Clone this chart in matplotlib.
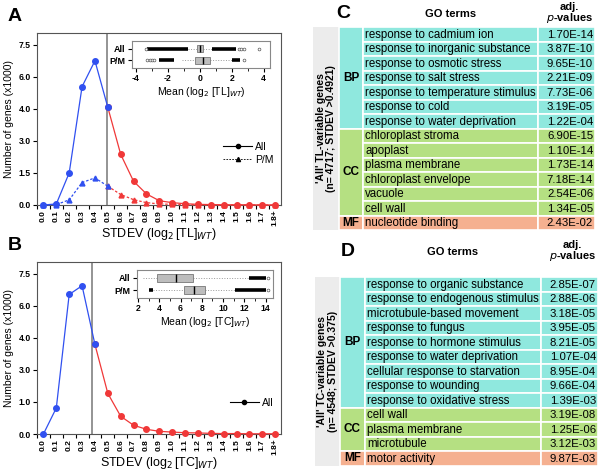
import matplotlib
matplotlib.use('Agg')
import matplotlib.pyplot as plt
import matplotlib.patches as mpatches
import numpy as np

plt.rcParams['font.family'] = ['Liberation Sans', 'DejaVu Sans']
plt.rcParams['font.size'] = 7

# ---------------- data ----------------
stdev_labels = ['0.0', '0.1', '0.2', '0.3', '0.4', '0.5', '0.6', '0.7', '0.8', '0.9',
                '1.0', '1.1', '1.2', '1.3', '1.4', '1.5', '1.6', '1.7', '1.8+']
a_all = [0, 0.05, 1.5, 5.54, 6.75, 4.57, 2.37, 1.11, 0.52, 0.2, 0.11, 0.06, 0.03,
         0.02, 0.01, 0.01, 0.01, 0.0, 0.0]
a_pm = [0, 0.02, 0.24, 1.05, 1.27, 0.88, 0.49, 0.25, 0.11, 0.05, 0.03, 0.01, 0.01,
        0, 0, 0, 0, 0, 0]
b_all = [0, 1.22, 6.53, 6.94, 4.19, 1.9, 0.83, 0.41, 0.22, 0.125, 0.09, 0.06, 0.05,
         0.03, 0.02, 0.02, 0.01, 0.01, 0.01]
thr_a, thr_b = 0.4921, 0.375
split_a, split_b = 5, 4
a_yticklabels = ['0.0', '1.5', '3.0', '4.0', '6.0', '7.5']
b_yticklabels = ['0.0', '1.0', '3.0', '4.0', '6.0', '7.5']

# inset box stats: (label, med, q1, q3, whislo, whishi, dense bands, single outliers)
inset_a = [
    ('All', 0.0, -0.15, 0.19, -0.72, 0.77, [(-3.3, -0.72), (0.77, 2.25)], [-3.35, 2.45, 2.6, 2.8, 3.7]),
    ('P/M', 0.19, -0.31, 0.65, -1.1, 2.03, [(-2.57, -1.6), (2.03, 2.5)], [-3.3, -3.15, -3.0, -2.85, 2.8]),
]
inset_b = [
    ('All', 5.56, 3.75, 7.19, 2.44, 12.44, [(12.44, 14.06)], [14.2]),
    ('P/M', 7.28, 6.34, 8.28, 3.44, 11.1, [(3.05, 3.4), (11.1, 14.06)], [14.2]),
]

table_c_terms = ['response to cadmium ion', 'response to inorganic substance',
                 'response to osmotic stress', 'response to salt stress',
                 'response to temperature stimulus', 'response to cold',
                 'response to water deprivation', 'chloroplast stroma', 'apoplast',
                 'plasma membrane', 'chloroplast envelope', 'vacuole', 'cell wall',
                 'nucleotide binding']
table_c_p = ['1.70E-14', '3.87E-10', '9.65E-10', '2.21E-09', '7.73E-06', '3.19E-05',
             '1.22E-04', '6.90E-15', '1.10E-14', '1.73E-14', '7.18E-14', '2.54E-06',
             '1.34E-05', '2.43E-02']
table_c_groups = [('BP', 7), ('CC', 6), ('MF', 1)]
table_d_terms = ['response to organic substance', 'response to endogenous stimulus',
                 'microtubule-based movement', 'response to fungus',
                 'response to hormone stimulus', 'response to water deprivation',
                 'cellular response to starvation', 'response to wounding',
                 'response to oxidative stress', 'cell wall', 'plasma membrane',
                 'microtubule', 'motor activity']
table_d_p = ['2.85E-07', '2.88E-06', '3.18E-05', '3.95E-05', '8.21E-05', '1.07E-04',
             '8.95E-04', '9.66E-04', '1.39E-03', '3.19E-08', '1.25E-06', '3.12E-03',
             '9.87E-03']
table_d_groups = [('BP', 9), ('CC', 3), ('MF', 1)]

BLUE, RED = '#3050f0', '#f03838'
group_colors = {'BP': '#8fe8de', 'CC': '#b5e082', 'MF': '#f5b090'}
PM_DASH = (0, (2, 1.5))

fig = plt.figure(figsize=(6.0, 4.7), dpi=100)
W, H = 600, 470

def fax(x0, y0, x1, y1):
    return fig.add_axes([x0 / W, 1 - y1 / H, (x1 - x0) / W, (y1 - y0) / H])

def line_panel(ax, series, split, thr, ylabels, xlab):
    x = np.arange(len(stdev_labels))
    for vals, mk, ls, ms in series:
        vals = np.array(vals)
        ax.plot(x[split:], vals[split:], color=RED, lw=0.9, ls=ls, marker=mk, ms=ms,
                clip_on=False, zorder=3)
        ax.plot(x[:split + 1], vals[:split + 1], color=BLUE, lw=0.9, ls=ls, marker=mk, ms=ms,
                clip_on=False, zorder=4)
    ax.axvline(thr * 10, color='#777777', lw=1.1, zorder=2)
    ax.set_xlim(-0.4, 18.45)
    ax.set_ylim(0, 8.05)
    ax.set_yticks(np.linspace(0, 7.5, 6))
    ax.set_yticklabels(ylabels, fontweight='bold', fontsize=6.2)
    ax.set_xticks(x - 0.5, minor=False)
    ax.set_xticklabels([])
    ax.set_xticks(x, minor=True)
    ax.set_xticklabels(stdev_labels, minor=True, rotation=90, fontweight='bold', fontsize=6)
    ax.tick_params(axis='x', which='minor', length=0, pad=3.5)
    ax.tick_params(axis='x', which='major', length=3)
    ax.tick_params(axis='y', length=3, pad=1.5)
    ax.set_ylabel('Number of genes (x1000)', fontsize=7.5, labelpad=3)
    ax.set_xlabel(xlab, fontsize=9, labelpad=0)
    for s in ax.spines.values():
        s.set_color('#555555')
        s.set_linewidth(0.8)

def inset_panel(ax, rows, xlim, major, minor, xlab):
    ys = [1, 0]
    for (lab, med, q1, q3, lo, hi, bands, pts), y in zip(rows, ys):
        ax.hlines(y, lo, q1, color='#999999', lw=0.7, ls=':')
        ax.hlines(y, q3, hi, color='#999999', lw=0.7, ls=':')
        ax.add_patch(mpatches.Rectangle((q1, y - 0.3), q3 - q1, 0.6, fc='#bdbdbd',
                                        ec='#777777', lw=0.6, zorder=3))
        ax.vlines(med, y - 0.3, y + 0.3, color='black', lw=1.0, zorder=4)
        for b0, b1 in bands:
            ax.hlines(y, b0, b1, color='black', lw=2.6, zorder=3)
        ax.plot(pts, [y] * len(pts), 'o', ms=2, mfc='white', mec='#555555', mew=0.5, zorder=3)
    ax.set_xlim(*xlim)
    ax.set_ylim(-0.65, 1.65)
    ax.set_yticks(ys)
    ax.set_yticklabels([r[0] for r in rows], fontweight='bold', fontsize=6.5)
    ax.set_xticks(major)
    ax.set_xticks(minor, minor=True)
    ax.set_xticklabels([f'{v:g}' for v in major], fontweight='bold', fontsize=6.2)
    ax.tick_params(axis='both', length=3, pad=1.5)
    ax.tick_params(axis='x', which='minor', length=2)
    ax.set_xlabel(xlab, fontsize=7.5, labelpad=1)
    for s in ax.spines.values():
        s.set_color('#888888')
        s.set_linewidth(0.8)

# ---- panel A ----
axA = fax(37, 33, 281, 205)
line_panel(axA, [(a_all, 'o', '-', 4), (a_pm, '^', PM_DASH, 3.5)], split_a, thr_a,
           a_yticklabels, r'STDEV (log$_2\,$[TL]$_{WT}$)')
axA.plot([], [], color='black', lw=0.8, marker='o', ms=3, label='All')
axA.plot([], [], color='black', lw=0.6, ls=PM_DASH, marker='^', ms=3, label='P/M')
axA.legend(loc='center right', bbox_to_anchor=(1.0, 0.3), frameon=False, fontsize=7.5,
           handlelength=2.8, borderaxespad=0.3, labelspacing=0.3, handletextpad=0.3)
axA.text(-0.12, 1.07, 'A', transform=axA.transAxes, fontsize=14, fontweight='bold')

insA = fax(132, 41, 270, 68)
inset_panel(insA, inset_a, (-4.25, 4.4), [-4, -2, 0, 2, 4], np.arange(-4, 5, 1),
            r'Mean (log$_2$ [TL]$_{WT}$)')

# ---- panel B ----
axB = fax(37, 262, 281, 434)
line_panel(axB, [(b_all, 'o', '-', 4)], split_b, thr_b, b_yticklabels,
           r'STDEV (log$_2\,$[TC]$_{WT}$)')
axB.plot([], [], color='black', lw=0.8, marker='o', ms=3, label='All')
axB.legend(loc='center right', bbox_to_anchor=(1.0, 0.18), frameon=False, fontsize=7.5,
           handlelength=2.8, borderaxespad=0.3, handletextpad=0.3)
axB.text(-0.12, 1.07, 'B', transform=axB.transAxes, fontsize=14, fontweight='bold')

insB = fax(137, 270, 273, 298)
inset_panel(insB, inset_b, (1.9, 14.7), [2, 4, 6, 8, 10, 12, 14], np.arange(2, 15, 1),
            r'Mean (log$_2$ [TC]$_{WT}$)')

# ---- tables ----
tab = fig.add_axes([0, 0, 1, 1])
tab.set_xlim(0, W)
tab.set_ylim(H, 0)
tab.axis('off')

def go_table(letter, lx, ly, cols, top, rowh, terms, pvals, groups, title_lines):
    c0, c1, c2, c3, c4 = cols
    n = len(terms)
    bottom = top + n * rowh
    tab.text(lx, ly, letter, fontsize=14, fontweight='bold', va='center', ha='left')
    tab.text((c2 + c3) / 2, ly + 1, 'GO terms', fontsize=8, fontweight='bold', ha='center', va='center')
    tab.text((c3 + c4) / 2 + 3, ly - 6, 'adj.', fontsize=8, fontweight='bold', ha='center', va='center')
    tab.text((c3 + c4) / 2 + 3, ly + 5, r'$\mathit{p}$-values', fontsize=8, fontweight='bold',
             ha='center', va='center')
    tab.add_patch(mpatches.Rectangle((c0, top), c1 - c0, bottom - top, fc='#ececec', ec='none'))
    tab.text((c0 + c1) / 2, (top + bottom) / 2, title_lines, rotation=90, ha='center',
             va='center', fontsize=7.5, fontweight='bold', linespacing=1.1)
    r = 0
    for g, cnt in groups:
        col = group_colors[g]
        y0 = top + r * rowh
        tab.add_patch(mpatches.Rectangle((c1, y0), c2 - c1, cnt * rowh, fc=col, ec='white', lw=1.2))
        tab.text((c1 + c2) / 2, y0 + cnt * rowh / 2, g, fontsize=8.5, fontweight='bold',
                 ha='center', va='center')
        for k in range(cnt):
            i = r + k
            yy = top + i * rowh
            tab.add_patch(mpatches.Rectangle((c2, yy), c3 - c2, rowh, fc=col, ec='white', lw=1.2))
            tab.add_patch(mpatches.Rectangle((c3, yy), c4 - c3, rowh, fc=col, ec='white', lw=1.2))
            tab.text(c2 + 2, yy + rowh / 2 + 0.5, terms[i], fontsize=8.3, ha='left', va='center')
            tab.text(c4 - 2, yy + rowh / 2 + 0.5, pvals[i], fontsize=8.2, ha='right', va='center')
        r += cnt

go_table('C', 336, 13, (313, 339, 363, 538, 595), 27, 14.5, table_c_terms, table_c_p,
         table_c_groups, "'All' TL-variable genes\n(n= 4717; STDEV >0.4921)")
go_table('D', 341, 251, (315, 340, 365, 541, 598), 277, 14.5, table_d_terms, table_d_p,
         table_d_groups, "'All' TC-variable genes\n(n= 4548; STDEV >0.375)")

fig.savefig('out.png', dpi=100)
